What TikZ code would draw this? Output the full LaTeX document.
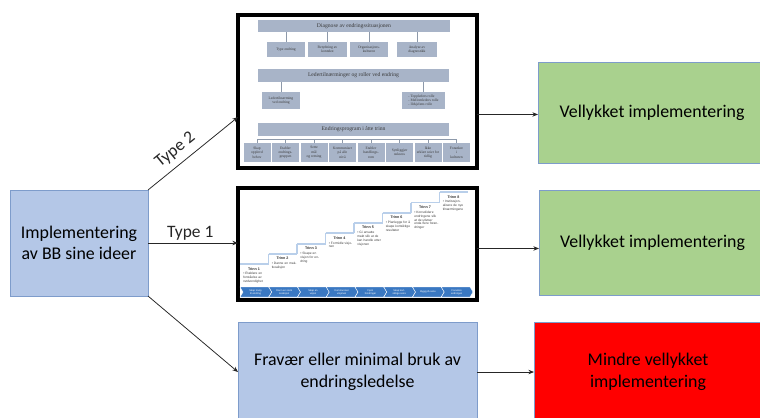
\documentclass[tikz,border=0pt]{standalone}
\usepackage{fontspec}
\setmainfont{Carlito}
\newfontfamily\timesfont{Liberation Serif}
\newfontfamily\arialfont{Liberation Sans}
\usetikzlibrary{calc,arrows.meta}
\definecolor{boxblue}{HTML}{B4C7E7}
\definecolor{boxgreen}{HTML}{A9D18E}
\definecolor{boxred}{HTML}{FF0000}
\definecolor{edgeblue}{HTML}{7E9CCB}
\definecolor{orgfill}{HTML}{A8B4C8}
\definecolor{orgtext}{HTML}{3A3A3A}
\definecolor{orggray}{HTML}{8D99AA}
\definecolor{stepblue}{HTML}{B9CFEA}
\definecolor{chevblue}{HTML}{3A78C2}
\tikzset{
  mainbox/.style={draw=edgeblue, line width=0.6pt, align=center, inner sep=0pt, outer sep=0pt,
    font=\fontsize{12.7}{15.2}\selectfont},
  picframe/.style={draw=black, line width=2.4pt, fill=white, inner sep=0pt, outer sep=0pt},
  flow/.style={-{Stealth[length=4pt,width=3.2pt]}, line width=0.55pt, black!85},
  typelabel/.style={font=\fontsize{12.4}{14}\selectfont, inner sep=1.5pt},
  orgbar/.style={fill=orgfill, inner sep=0pt, text=orgtext, font=\timesfont\fontsize{4}{4.8}\selectfont},
  orgbox/.style={fill=orgfill, inner sep=0pt, align=center, text=orgtext, font=\timesfont\fontsize{2.6}{3.1}\selectfont},
  orglink/.style={draw=orggray, line width=0.4pt},
  stepline/.style={draw=stepblue, line width=1.4pt},
  steplabel/.style={inner sep=0pt, text=black!80, font=\arialfont\bfseries\fontsize{2.6}{3}\selectfont},
  stepnote/.style={anchor=north west, inner sep=0pt, text width=0.62cm, align=left, text=black!75,
    font=\arialfont\fontsize{2.3}{2.8}\selectfont},
  chevtext/.style={inner sep=0pt, align=center, text=white, font=\arialfont\fontsize{1.8}{2.1}\selectfont}
}

\begin{document}
\begin{tikzpicture}[x=0.025cm, y=-0.025cm]
%%%%% START %%%%%
\useasboundingbox (0,0) rectangle (760,417);
\clip (0,0) rectangle (760,417);

% main boxes
\node[mainbox, fill=boxblue, minimum width=3.45cm, minimum height=2.65cm] (impl) at (79,243) {Implementering\\av BB sine ideer};
\node[picframe, minimum width=5.975cm, minimum height=3.825cm] (img1) at (357.5,91.5) {};
\node[picframe, minimum width=5.975cm, minimum height=2.8cm] (img2) at (357.5,244) {};
\node[mainbox, fill=boxblue, minimum width=5.975cm, minimum height=2.5cm] (fravaer) at (357.5,372) {Fravær eller minimal bruk av\\endringsledelse};
\node[mainbox, fill=boxgreen, minimum width=5.7cm, minimum height=2.525cm] (ok1) at (652,112.5) {Vellykket implementering};
\node[mainbox, fill=boxgreen, minimum width=5.675cm, minimum height=2.625cm] (ok2) at (652.5,242.5) {Vellykket implementering};
\node[mainbox, fill=boxred, minimum width=5.7cm, minimum height=2.5cm] (mindre) at (648,372) {Mindre vellykket\\implementering};

% arrows
\coordinate (t2) at ($(img1.north west)!0.667!(img1.south west)$);
\coordinate (o1) at ($(img1.north east)!0.65!(img1.south east)$);
\coordinate (o2) at ($(img2.north east)!0.54!(img2.south east)$);
\draw[flow] (impl.north east) -- node[typelabel, sloped, above=3pt, pos=0.4] {Type 2} (t2);
\draw[flow] (impl.east) -- node[typelabel, above, pos=0.47] {Type 1} (impl.east -| img2.west);
\draw[flow] (impl.south east) -- (fravaer.west);
\draw[flow] (o1) -- (o1 -| ok1.west);
\draw[flow] (o2) -- (o2 -| ok2.west);
\draw[flow] (fravaer) -- (mindre);

% picture 1: org chart
\node[orgbar, minimum width=4.8cm, minimum height=0.3cm] (d0) at (354,26) {Diagnose av endringssituasjonen};
\foreach \n/\xc/\w/\txt in {1/286/0.95/{Type endring}, 2/327.5/0.975/{Betydning av\\kontekst},
    3/369/0.95/{Organisasjons-\\kulturen}, 4/417/1.0/{Analyse av\\diagnostikk}}
  \node[orgbox, minimum width=\w cm, minimum height=0.375cm] (d\n) at (\xc,49.5) {\txt};
\foreach \n in {1,...,4}
  \draw[orglink] (d0.south -| d\n) -- (d\n.north);

\node[orgbar, minimum width=4.775cm, minimum height=0.325cm] (l0) at (353.5,75.5) {Ledertilnærminger og roller ved endring};
\node[orgbox, minimum width=0.95cm, minimum height=0.425cm] (l1) at (281,100.5) {Ledertilnærming\\ved endring};
\node[orgbox, minimum width=1.075cm, minimum height=0.425cm, align=left] (l2) at (423.5,100.5) {- Toppleders rolle\\- Mellomleders rolle\\- Ildsjelens rolle};
\draw[orglink] (l0.south -| l1) -- (l1.north);
\draw[orglink] (l0.south -| l2) -- (l2.north);

\node[orgbar, minimum width=4.775cm, minimum height=0.325cm] (e0) at (353.5,129.5) {Endringsprogram i åtte trinn};
\foreach \n/\txt in {1/{Skap\\opplevd\\behov}, 2/{Etabler\\endrings-\\gruppen}, 3/{Sette\\mål\\og retning},
    4/{Kommuniser\\på alle\\nivå}, 5/{Etabler\\handlings-\\rom}, 6/{Synliggjør\\suksess},
    7/{Ikke\\erklær seier for\\tidlig}, 8/{Forankre\\i\\kulturen}}
  \node[orgbox, minimum width=0.675cm, minimum height=0.475cm] (e\n) at ({257+(\n-1)*28.5},152.5) {\txt};
\coordinate (ebus) at (353.5,139);
\draw[orglink] (e1 |- ebus) -- (e8 |- ebus);
\foreach \n in {1,...,8}
  \draw[orglink] (e\n |- ebus) -- (e\n.north);

% picture 2: eight steps
\foreach \i in {1,...,8} {
  \pgfmathsetmacro\xl{240+(\i-1)*28.5}
  \pgfmathsetmacro\yl{264.3-(\i-1)*10.3}
  \draw[stepline] (\xl,\yl) -- ({\xl+28.5},\yl);
  \node[steplabel] (s\i) at ({\xl+14},{\yl+4.5}) {Trinn \i};
}
\foreach \i in {2,...,8} {
  \pgfmathsetmacro\xl{240+(\i-1)*28.5}
  \pgfmathsetmacro\yl{264.3-(\i-1)*10.3}
  \draw[stepline] (\xl,{\yl+10.3}) -- (\xl,\yl);
}
\foreach \i/\txt in {1/{Etablere en forståelse av nødvendighet}, 2/{Danne en maktkoalisjon},
    3/{Skape en visjon for endring}, 4/{Formidle visjonen},
    5/{Gi ansatte makt slik at de kan handle etter visjonen},
    6/{Planlegge for å skape kortsiktige resultater},
    7/{Konsolidere endringene slik at de utløser enda flere forandringer},
    8/{Institusjonalisere de nye tilnærmingene}} {
  \pgfmathsetmacro\xl{240+(\i-1)*28.5}
  \pgfmathsetmacro\yl{264.3-(\i-1)*10.3}
  \node[stepnote] (n\i) at ({\xl+3},{\yl+8}) {\textbullet\ \txt};
}
\foreach \i/\txt in {1/{Skap trang\\til endring}, 2/{Dann en sterk\\koalisjon}, 3/{Skap en\\visjon}, 4/{Kommuniser\\visjonen},
    5/{Fjern\\hindringer}, 6/{Skap kort-\\siktige seire}, 7/{Bygg på seire}, 8/{Forankre\\endringen}} {
  \pgfmathsetmacro\ca{240+(\i-1)*28.75}
  \pgfmathsetmacro\cb{\ca+28.75}
  \filldraw[fill=chevblue, draw=white, line width=0.3pt] (\ca,287) -- (\cb,287) -- ({\cb+3},292) -- (\cb,297) -- (\ca,297) -- ({\ca+3},292) -- cycle;
  \node[chevtext] (c\i) at ({\ca+15.5},292) {\txt};
}
%%%%% END %%%%%
\end{tikzpicture}
\end{document}
